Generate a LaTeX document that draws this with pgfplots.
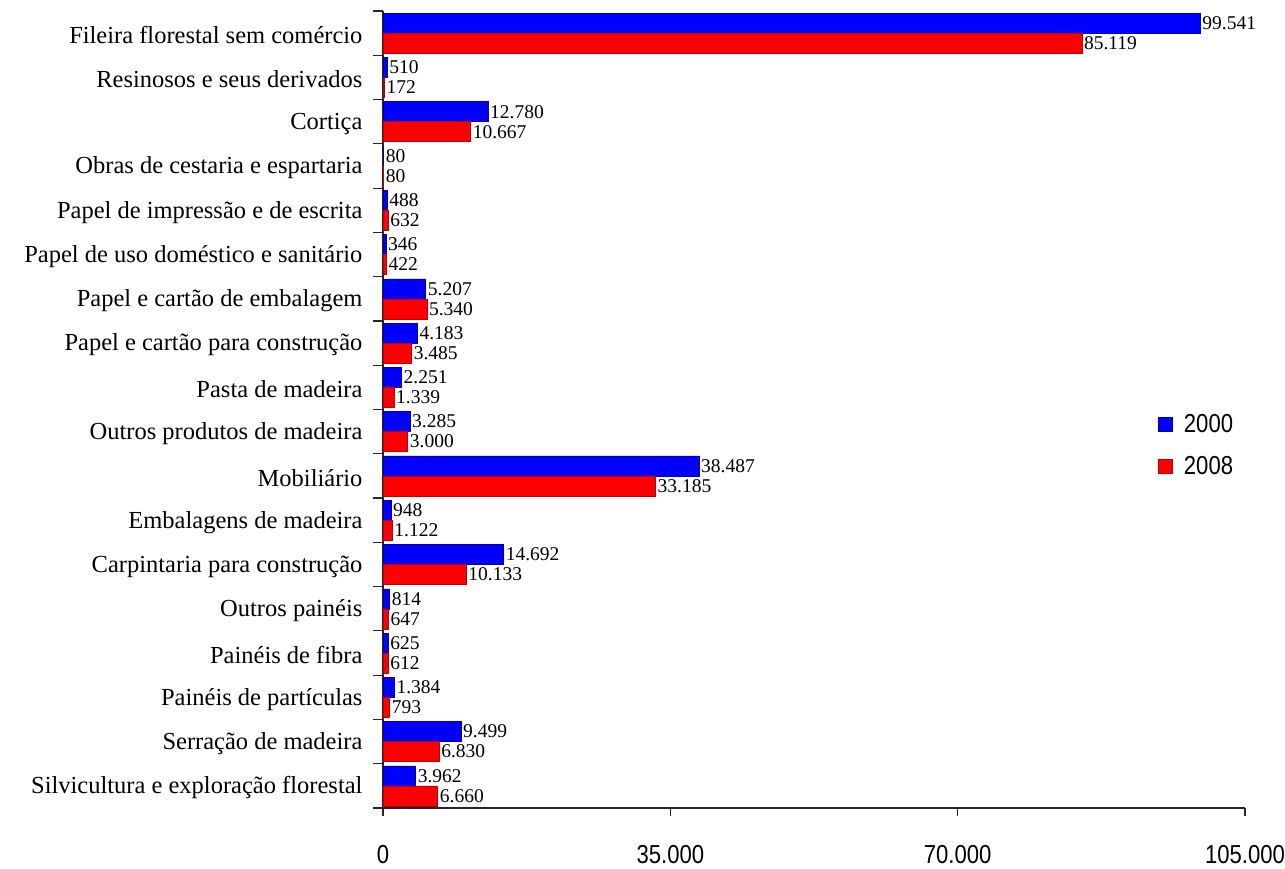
\documentclass[border=0pt]{standalone}
\usepackage{fontspec}
\setmainfont{Liberation Serif}
\newfontfamily\sansf[FakeStretch=0.85]{Liberation Sans}
\usepackage{pgfplots}
\pgfplotsset{compat=1.18}
\definecolor{barblue}{RGB}{0,0,255}
\definecolor{barred}{RGB}{255,0,0}
\begin{document}
\begin{tikzpicture}
\useasboundingbox (0,0) rectangle (1285pt,868pt);
\begin{axis}[
  at={(383pt,60pt)}, anchor=south west,
  scale only axis, width=862pt, height=797pt,
  xbar=0pt, bar width=20pt,
  xmin=0, xmax=105000,
  ymin=-0.5, ymax=17.5, y dir=reverse,
  clip=false,
  axis x line*=bottom, axis y line*=left,
  axis line style={-, line width=1.4pt, black!85},
  /pgf/number format/.cd, fixed, precision=0, 1000 sep={.}, assume math mode=true,
  /pgfplots/.cd,
  xtick={0,35000,70000,105000},
  scaled x ticks=false,
  xtick align=outside,
  major tick length=8pt,
  every tick/.style={line width=1.2pt, black!85},
  xticklabel style={font=\sansf\fontsize{26}{26}\selectfont, yshift=-26pt},
  ytick={0,...,17},
  yticklabels={
    Fileira florestal sem comércio,
    Resinosos e seus derivados,
    Cortiça,
    Obras de cestaria e espartaria,
    Papel de impressão e de escrita,
    Papel de uso doméstico e sanitário,
    Papel e cartão de embalagem,
    Papel e cartão para construção,
    Pasta de madeira,
    Outros produtos de madeira,
    Mobiliário,
    Embalagens de madeira,
    Carpintaria para construção,
    Outros painéis,
    Painéis de fibra,
    Painéis de partículas,
    Serração de madeira,
    Silvicultura e exploração florestal},
  major y tick style={draw=none},
  minor y tick style={draw=black!85, line width=1.2pt},
  yticklabel style={font=\fontsize{24.5}{24.5}\selectfont, xshift=-9pt, yshift=-2pt},
  minor ytick={-0.5,0.5,...,17.5},
  minor tick length=10pt,
  ytick align=outside,
  nodes near coords,
  every node near coord/.append style={font=\fontsize{19.5}{19.5}\selectfont, anchor=west, inner sep=2pt},
  legend style={at={(0.895,0.455)}, anchor=west, draw=none, fill=none,
    font=\sansf\fontsize{26}{26}\selectfont, row sep=18pt},
  legend cell align=left,
  legend image code/.code={\fill[#1] (0pt,-7pt) rectangle (14pt,7pt); \path[draw=none, fill=none] (0pt,0pt) -- (24pt,0pt);},
]
% 2000 on the upper half of each band, 2008 on the lower half
\addplot[fill=barblue, draw=blue!70!black, line width=0.5pt, bar shift=10pt] coordinates {
  (99541,0) (510,1) (12780,2) (80,3) (488,4) (346,5) (5207,6) (4183,7)
  (2251,8) (3285,9) (38487,10) (948,11) (14692,12) (814,13) (625,14)
  (1384,15) (9499,16) (3962,17)};
\addplot[fill=barred, draw=red!75!black, line width=0.5pt, bar shift=-10pt] coordinates {
  (85119,0) (172,1) (10667,2) (80,3) (632,4) (422,5) (5340,6) (3485,7)
  (1339,8) (3000,9) (33185,10) (1122,11) (10133,12) (647,13) (612,14)
  (793,15) (6830,16) (6660,17)};
\legend{2000,2008}
\end{axis}
\end{tikzpicture}
\end{document}
